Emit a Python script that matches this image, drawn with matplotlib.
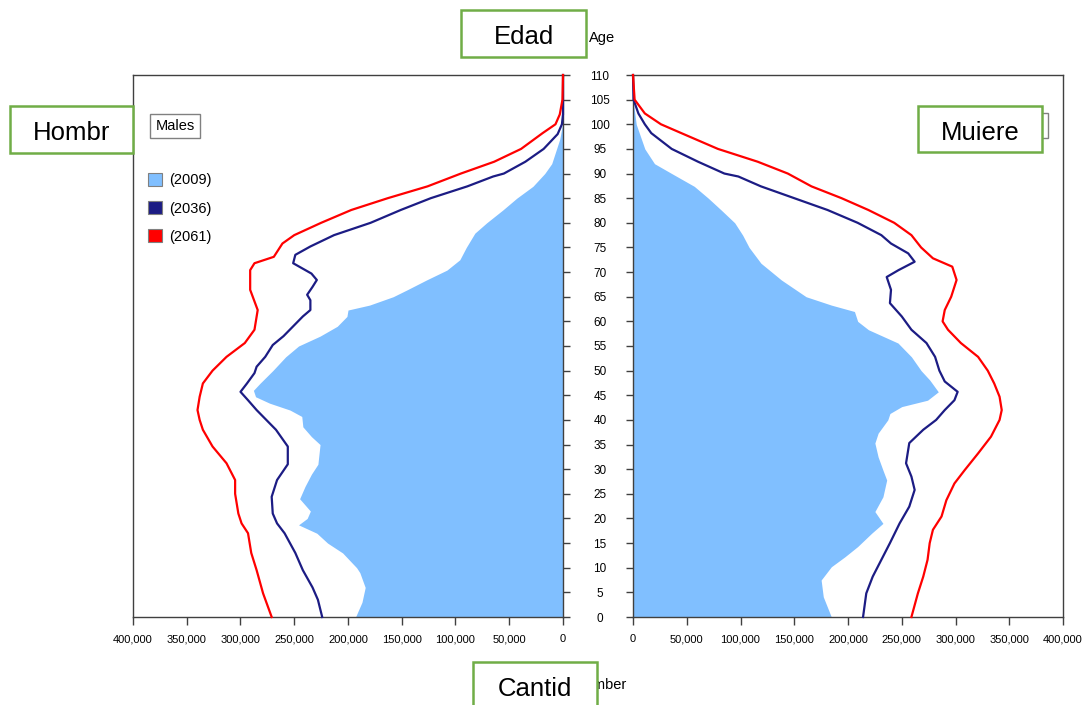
import matplotlib.pyplot as plt
import matplotlib.patches as mpatches
from matplotlib.ticker import FuncFormatter, MultipleLocator

plt.rcParams['font.family'] = ['Liberation Sans', 'DejaVu Sans']

# population in thousands
male_2009_age = [0, 3, 6, 9, 10, 13, 15, 17, 18.7, 20, 21.5, 24, 26.5, 29, 31, 35, 36.6, 38.6,
                 40.7, 42, 43.4, 44.7, 46, 47.4, 50, 52.8, 55, 57, 59, 61, 62.3, 63.3, 65, 66.4,
                 68.4, 70.4, 72.5, 75, 77.9, 80, 82.6, 85, 87.4, 90, 92, 95, 97, 100, 102, 110]
male_2009 = [193, 187, 184, 189, 192, 205, 219, 229, 246, 238, 235, 245, 240, 234, 228, 226, 234, 242,
             243, 254, 273, 286, 288, 282, 270, 258, 246, 226, 210, 201, 200, 180, 158, 145,
             127, 108, 96, 90, 82, 71, 56, 43, 28, 17, 10.5, 6, 3, 0.5, 0, 0]

male_2036_age = [0, 3.5, 6, 9.5, 13, 17, 19, 21, 24.4, 27.8, 31, 34.6, 38, 40, 42, 44, 45.7, 47.4,
                 49.5, 50.8, 52.8, 55.2, 57, 59, 61, 62.3, 64.3, 65.4, 67, 68.4, 69.7, 71.8, 73.5,
                 75.2, 77.5, 80, 82.6, 85, 87.4, 89.4, 90, 92.4, 95, 98, 100, 102, 110]
male_2036 = [224, 228, 233, 242, 249, 259, 266, 270, 271, 266, 256, 256, 267, 276, 285, 293, 300, 294,
             287, 285, 277, 270, 260, 251, 242, 235, 235, 238, 233, 229, 234, 251, 249,
             235, 213, 179, 151, 123, 89, 65, 55, 35, 18, 5, 1, 0, 0]

male_2061_age = [0, 4.8, 9.5, 13, 17, 19, 21, 25, 27.8, 31.2, 34.6, 38, 40, 42, 44.7, 47.4, 50, 52.8,
                 55.6, 58.3, 62.3, 66.4, 70.4, 71.8, 73.1, 75.8, 77.5, 80, 82.6, 85, 87.4, 90, 92.4,
                 95, 98.2, 100, 102, 105, 110]
male_2061 = [271, 279, 285, 290, 293, 299, 302, 305, 305, 313, 326, 335, 338, 340, 338, 335, 326, 313,
             296, 287, 284, 291, 291, 287, 269, 261, 250, 225, 197, 163, 126, 95, 64,
             39, 19, 7, 3, 0.5, 0]

female_2009_age = [0, 4.1, 7.5, 10.2, 12.2, 14.3, 17, 19, 21.4, 24.4, 27.8, 29.8, 32.5, 35.3, 37.3, 40,
                   41.3, 42.7, 44, 45.7, 48.1, 50, 52.8, 55.6, 58.3, 60, 62, 63.3, 65, 68.4, 71.8, 75,
                   77.5, 80, 82.6, 85, 87.4, 90, 92, 95, 100, 105, 110]
female_2009 = [184.5, 177, 175, 184.5, 197, 209, 222, 232.5, 225, 232.5, 236, 232.5, 228, 225, 228, 237,
               239, 250, 274, 284, 276, 268, 259, 246.5, 219, 209, 206, 184.5, 161, 138, 119, 108,
               102, 94.6, 82, 70, 57, 36, 20, 11, 3, 0, 0]

female_2036_age = [0, 4.8, 8.2, 11.6, 15, 19, 22.4, 25.8, 28.5, 31.2, 35.3, 38, 40, 42, 44, 45.7, 47.8,
                   50, 52.8, 55.6, 58.3, 61, 63.7, 66.4, 69, 70.4, 72.1, 73.8, 75.8, 77.5, 80, 82.6,
                   85, 87.4, 89.4, 90, 92.4, 95, 98.2, 100, 102.2, 105, 110]
female_2036 = [214, 217, 223, 231, 239, 248, 257, 262, 259, 254, 257, 270, 282, 290, 299, 302, 290,
               285, 281, 273, 259, 250, 239, 240, 236, 247, 262, 256, 240, 231, 209, 181,
               150, 119, 98, 85, 60.5, 36, 17, 11, 5, 0.5, 0]

female_2061_age = [0, 4.8, 8.2, 11.6, 15, 17.7, 20.4, 23.7, 27.1, 29.8, 33.2, 36.6, 40, 42, 44.7, 47.4,
                   50, 52.8, 55.6, 58.3, 60, 62.3, 65, 68.4, 71.1, 72.8, 75, 77.5, 80, 82.6, 85, 87.4,
                   90, 92.4, 95, 98.2, 100, 102.2, 105, 110]
female_2061 = [259, 265, 270, 274, 276, 279, 287, 291.5, 299, 308.5, 321, 333, 341, 343, 341, 336,
               330, 321, 305, 293, 288, 290, 296, 301, 297, 279, 268, 259, 243, 219, 194, 166,
               144, 116, 79, 45, 26, 11, 1.5, 0]

years = ['(2009)', '(2036)', '(2061)']
x_ticks = [0, 50000, 100000, 150000, 200000, 250000, 300000, 350000, 400000]

c_fill = '#80bfff'
c_2036 = '#1c1c84'
c_2061 = '#ff0000'
c_spine = '#404040'

W, H = 1092, 705
fig = plt.figure(figsize=(W / 100, H / 100), dpi=100)
ax_l = fig.add_axes([133 / W, 1 - 617 / H, 430 / W, 542 / H])
ax_r = fig.add_axes([633 / W, 1 - 617 / H, 430 / W, 542 / H])


def k(vals):
    return [v * 1000 for v in vals]


ax_l.fill_betweenx(male_2009_age, 0, k(male_2009), color=c_fill, lw=0, zorder=1)
ax_l.plot(k(male_2036), male_2036_age, color=c_2036, lw=1.6, zorder=3, clip_on=False)
ax_l.plot(k(male_2061), male_2061_age, color=c_2061, lw=1.6, zorder=3, clip_on=False)

ax_r.fill_betweenx(female_2009_age, 0, k(female_2009), color=c_fill, lw=0, zorder=1)
ax_r.plot(k(female_2036), female_2036_age, color=c_2036, lw=1.6, zorder=3, clip_on=False)
ax_r.plot(k(female_2061), female_2061_age, color=c_2061, lw=1.6, zorder=3, clip_on=False)

fmt = FuncFormatter(lambda v, p: f'{v:,.0f}')
for ax in (ax_l, ax_r):
    ax.set_ylim(0, 110)
    ax.set_xticks(x_ticks)
    ax.xaxis.set_major_formatter(fmt)
    ax.yaxis.set_major_locator(MultipleLocator(5))
    ax.tick_params(axis='x', direction='out', length=6, width=1, color=c_spine,
                   labelsize=8, pad=6.5)
    for s in ax.spines.values():
        s.set_color(c_spine)
        s.set_linewidth(1)

ax_l.set_xlim(400000, 0)
ax_r.set_xlim(0, 400000)

# age labels sit between the two panels
ax_l.yaxis.tick_right()
ax_l.tick_params(axis='y', direction='out', length=5, width=1, color=c_spine,
                 labelsize=8.5, pad=21.6)
for lab in ax_l.get_yticklabels():
    lab.set_horizontalalignment('center')
ax_r.tick_params(axis='y', direction='out', length=5, width=1, color=c_spine,
                 left=True, labelleft=False)

handles = [mpatches.Patch(facecolor=c, edgecolor='#808080', lw=0.8)
           for c in (c_fill, c_2036, c_2061)]
ax_l.legend(handles, years, loc='upper left', bbox_to_anchor=(135 / W, 1 - 160 / H),
            bbox_transform=fig.transFigure, frameon=False, fontsize=10.5,
            handlelength=0.95, handleheight=0.95, handletextpad=0.5, labelspacing=0.95)

ax_l.text(175 / W, 1 - 126 / H, 'Males', transform=fig.transFigure, fontsize=10.5,
          ha='center', va='center',
          bbox=dict(boxstyle='square,pad=0.35', fc='white', ec='#808080', lw=1))
# original "Females" box, almost fully hidden behind the overlay
fig.add_artist(mpatches.Rectangle((995 / W, 1 - 138 / H), 53 / W, 25 / H,
                                  transform=fig.transFigure, fc='white',
                                  ec='#808080', lw=1, zorder=0.5))
fig.text(589 / W, 1 - 38 / H, 'Age', fontsize=10.5, ha='left', va='center', zorder=0.5)
fig.text(627 / W, 1 - 685 / H, 'Number', fontsize=10.5, ha='right', va='center', zorder=0.5)

# overlaid translation boxes
boxes = [('Edad', 461, 10, 125, 47), ('Hombr', 10, 106, 123, 47),
         ('Muiere', 918, 106, 124, 46), ('Cantid', 473, 662, 124, 50)]
for label, bx, by, bw, bh in boxes:
    fig.add_artist(mpatches.Rectangle((bx / W, 1 - (by + bh) / H), bw / W, bh / H,
                                      transform=fig.transFigure, fc='white',
                                      ec='#70ad47', lw=1.8, zorder=2))
    fig.text((bx + bw / 2) / W, 1 - (by + 27) / H, label, fontsize=18.5,
             ha='center', va='center', zorder=3)

fig.savefig('out.png', dpi=100)
